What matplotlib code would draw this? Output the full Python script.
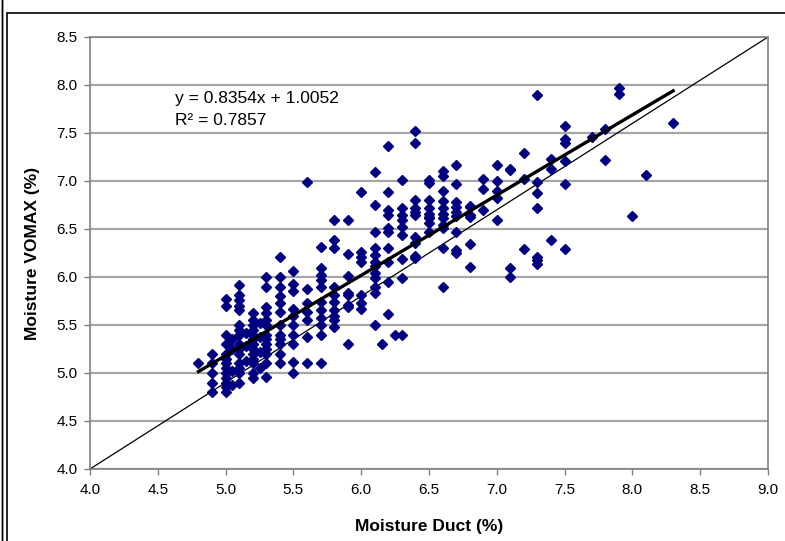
import matplotlib
matplotlib.use('Agg')
import matplotlib.pyplot as plt
from matplotlib.patches import Rectangle
import numpy as np

# moisture readings, grouped by duct value (%)
DUCT = [4.8, 4.9, 5.0, 5.05, 5.1, 5.15, 5.2, 5.25, 5.3, 5.4, 5.5, 5.6, 5.7, 5.8,
        5.9, 6.0, 6.1, 6.15, 6.2, 6.25, 6.3, 6.4, 6.5, 6.6, 6.7, 6.8, 6.9,
        7.0, 7.1, 7.2, 7.3, 7.4, 7.5, 7.7, 7.8, 7.9, 8.0, 8.1, 8.3]
VOMAX = [
    [5.10],
    [4.80, 4.90, 5.00, 5.10, 5.20],
    [4.80, 4.85, 4.90, 4.95, 5.00, 5.05, 5.10, 5.15, 5.20, 5.30, 5.40, 5.70, 5.77],
    [4.88, 5.02, 5.25, 5.35],
    [4.90, 5.00, 5.05, 5.10, 5.20, 5.25, 5.30, 5.40, 5.45, 5.50, 5.66, 5.70, 5.76, 5.81, 5.92],
    [5.12, 5.28, 5.42],
    [4.95, 5.00, 5.10, 5.15, 5.20, 5.25, 5.30, 5.35, 5.40, 5.45, 5.50, 5.55, 5.62],
    [5.05, 5.22, 5.38, 5.52],
    [4.96, 5.10, 5.20, 5.25, 5.30, 5.35, 5.40, 5.50, 5.55, 5.62, 5.69, 5.90, 6.00],
    [5.10, 5.20, 5.30, 5.35, 5.40, 5.50, 5.64, 5.73, 5.80, 5.90, 6.00, 6.21],
    [5.00, 5.11, 5.30, 5.40, 5.50, 5.59, 5.67, 5.85, 5.93, 6.06],
    [5.10, 5.38, 5.55, 5.64, 5.73, 5.88, 6.99],
    [5.10, 5.40, 5.50, 5.57, 5.66, 5.74, 5.90, 5.97, 6.02, 6.09, 6.31],
    [5.48, 5.55, 5.59, 5.66, 5.74, 5.81, 5.90, 6.30, 6.39, 6.59],
    [5.30, 5.69, 5.71, 5.81, 5.83, 6.01, 6.24, 6.59],
    [5.67, 5.73, 5.81, 6.16, 6.21, 6.26, 6.89],
    [5.50, 5.83, 5.90, 5.99, 6.04, 6.11, 6.16, 6.23, 6.30, 6.47, 6.75, 7.09],
    [5.30],
    [5.61, 5.95, 6.16, 6.30, 6.47, 6.51, 6.65, 6.70, 6.89, 7.36],
    [5.40],
    [5.40, 5.99, 6.19, 6.44, 6.52, 6.59, 6.65, 6.72, 7.01],
    [6.20, 6.22, 6.35, 6.42, 6.65, 6.68, 6.72, 6.80, 7.40, 7.52],
    [6.47, 6.56, 6.61, 6.63, 6.66, 6.72, 6.80, 6.98, 7.01],
    [5.90, 6.30, 6.51, 6.54, 6.61, 6.66, 6.72, 6.79, 6.90, 7.05, 7.10],
    [6.25, 6.28, 6.47, 6.64, 6.68, 6.73, 6.78, 6.97, 7.17],
    [6.10, 6.34, 6.63, 6.65, 6.73, 6.74],
    [6.70, 6.92, 7.02],
    [6.59, 6.82, 6.90, 7.00, 7.17],
    [6.00, 6.09, 7.11, 7.13],
    [6.29, 7.02, 7.29],
    [6.14, 6.18, 6.21, 6.72, 6.87, 6.99, 7.90],
    [6.39, 7.12, 7.23],
    [6.29, 6.97, 7.21, 7.40, 7.44, 7.57],
    [7.46],
    [7.22, 7.54],
    [7.91, 7.97],
    [6.64],
    [7.06],
    [7.60],
]
SLOPE, INTERCEPT, R2 = 0.8354, 1.0052, 0.7857

NAVY = '#000080'
GRID = '#a6a6a6'
FRAME = '#808080'

x = np.concatenate([[d] * len(v) for d, v in zip(DUCT, VOMAX)])
y = np.concatenate(VOMAX)

plt.rcParams['font.family'] = ['Liberation Sans', 'DejaVu Sans']

fig = plt.figure(figsize=(7.85, 5.41), dpi=100)
fig.patches.append(Rectangle((7 / 785, -0.1), 1.2, 1 - 13 / 541 + 0.1,
                             transform=fig.transFigure, fill=False,
                             edgecolor='black', linewidth=1.2))
fig.patches.append(Rectangle((2 / 785, -0.1), 0.0, 1.2, transform=fig.transFigure,
                             fill=False, edgecolor='black', linewidth=1.0))
ax = fig.add_axes([90 / 785, 1 - 469 / 541, 678 / 785, 432 / 541])

ax.set_xlim(4.0, 9.0)
ax.set_ylim(4.0, 8.5)
ax.set_xticks(np.arange(4.0, 9.01, 0.5))
ax.set_yticks(np.arange(4.0, 8.51, 0.5))
ax.xaxis.set_major_formatter(matplotlib.ticker.FormatStrFormatter('%.1f'))
ax.yaxis.set_major_formatter(matplotlib.ticker.FormatStrFormatter('%.1f'))
ax.grid(axis='y', color=GRID, linewidth=1.6, zorder=0)
for s in ax.spines.values():
    s.set_color(FRAME)
    s.set_linewidth(1.2)
ax.tick_params(direction='out', length=4, width=1, color=FRAME,
               labelsize=11, labelcolor='black')
ax.tick_params(axis='x', pad=6)
ax.tick_params(axis='y', pad=5)

# diagonal reference line, corner to corner
ax.plot([0, 1], [0, 1], transform=ax.transAxes, color='black', lw=0.9, zorder=2)

ax.plot(x, y, ls='none', marker='D', ms=5.4, color=NAVY, mec=NAVY, zorder=3)

xs = np.array([x.min(), x.max()])
ax.plot(xs, SLOPE * xs + INTERCEPT, color='black', lw=2.4, zorder=4)

ax.text(4.63, 7.86, f'y = {SLOPE:.4f}x + {INTERCEPT:.4f}', fontsize=12.5,
        va='center', ha='left')
ax.text(4.63, 7.63, f'R² = {R2:.4f}', fontsize=12.5, va='center', ha='left')

ax.set_xlabel('Moisture Duct (%)', fontsize=12.5, fontweight='bold', labelpad=16)
ax.set_ylabel('Moisture VOMAX (%)', fontsize=12.5, fontweight='bold', labelpad=12)

fig.savefig('out.png', dpi=100)
